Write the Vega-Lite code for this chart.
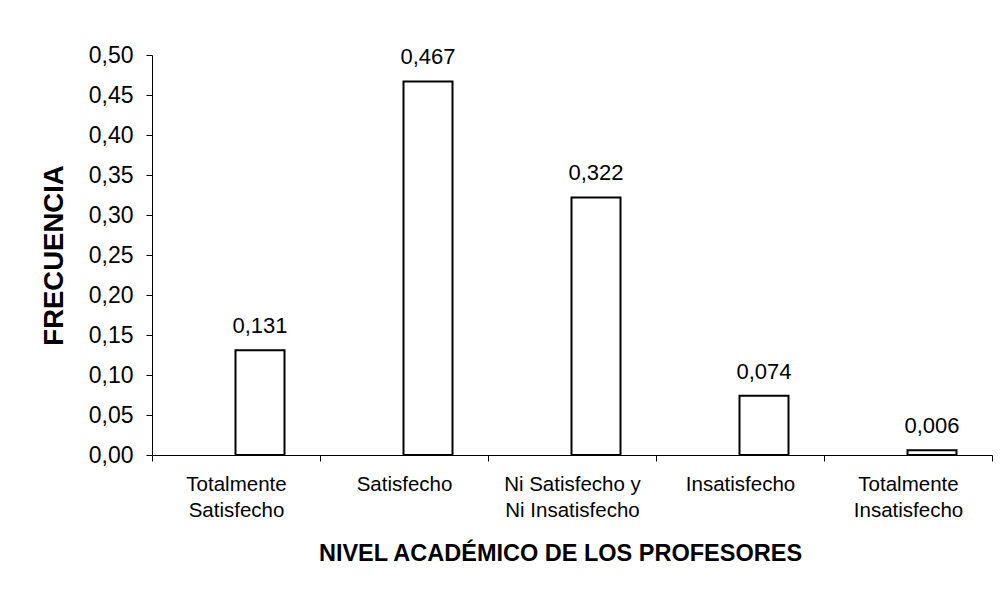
{
  "$schema": "https://vega.github.io/schema/vega-lite/v6.json",
  "width": 840,
  "height": 400,
  "autosize": {"type": "none"},
  "padding": {"left": 152, "top": 55, "right": 9, "bottom": 137},
  "background": "white",
  "config": {
    "view": {"stroke": null},
    "font": "Liberation Sans",
    "locale": {"number": {"decimal": ",", "thousands": ".", "grouping": [3], "currency": ["", " €"]}},
    "axis": {"domainColor": "black", "tickColor": "black", "labelColor": "black", "titleColor": "black", "grid": false}
  },
  "data": {
    "values": [
      {"nivel": "Totalmente Satisfecho", "frecuencia": 0.131},
      {"nivel": "Satisfecho", "frecuencia": 0.467},
      {"nivel": "Ni Satisfecho y Ni Insatisfecho", "frecuencia": 0.322},
      {"nivel": "Insatisfecho", "frecuencia": 0.074},
      {"nivel": "Totalmente Insatisfecho", "frecuencia": 0.006}
    ]
  },
  "encoding": {
    "x": {
      "field": "nivel",
      "type": "nominal",
      "sort": null,
      "scale": {"paddingInner": 0, "paddingOuter": 0},
      "axis": {
        "title": "NIVEL ACADÉMICO DE LOS PROFESORES",
        "titleFontSize": 23.5,
        "titleFontWeight": "bold",
        "titlePadding": 21,
        "titleX": 408,
        "tickBand": "extent",
        "tickSize": 6,
        "labelAngle": 0,
        "labelFontSize": 20.5,
        "labelPadding": 13,
        "labelLineHeight": 26,
        "labelBaseline": "top",
        "labelExpr": "datum.label == 'Ni Satisfecho y Ni Insatisfecho' ? ['Ni Satisfecho y', 'Ni Insatisfecho'] : split(datum.label, ' ')"
      }
    },
    "y": {
      "field": "frecuencia",
      "type": "quantitative",
      "scale": {"domain": [0, 0.5], "nice": false},
      "axis": {
        "title": "FRECUENCIA",
        "titleFontSize": 27.5,
        "titleFontWeight": "bold",
        "titlePadding": 20,
        "values": [0, 0.05, 0.1, 0.15, 0.2, 0.25, 0.3, 0.35, 0.4, 0.45, 0.5],
        "format": ".2f",
        "tickSize": 6,
        "labelFontSize": 23,
        "labelPadding": 13
      }
    }
  },
  "layer": [
    {
      "mark": {"type": "bar", "width": 49, "xOffset": 24, "fill": "white", "stroke": "black", "strokeWidth": 2}
    },
    {
      "mark": {"type": "text", "xOffset": 24, "dy": -17, "baseline": "alphabetic", "fontSize": 22, "color": "black"},
      "encoding": {"text": {"field": "frecuencia", "type": "quantitative", "format": ".3f"}}
    }
  ]
}
